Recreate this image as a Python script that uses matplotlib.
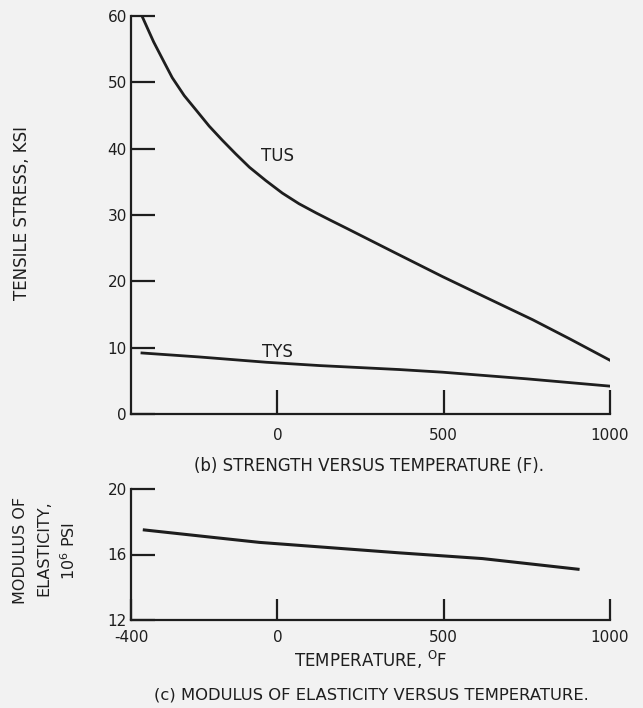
import matplotlib
matplotlib.use('Agg')
import matplotlib.pyplot as plt

# 인장 강도 (TUS), 항복 강도 (TYS) -- 온도(F) 대비 ksi
tus_temp = [-407, -390, -372, -340, -316, -280, -244, -205, -166, -125, -84,
            -35, 15, 65, 117, 160, 208, 350, 497, 630, 768, 880, 1000]
tus_ksi = [60, 58.1, 56.1, 53.0, 50.7, 48.0, 45.8, 43.4, 41.3, 39.2, 37.2,
           35.2, 33.3, 31.7, 30.3, 29.2, 28.0, 24.4, 20.7, 17.5, 14.2, 11.3, 8.1]

tys_temp = [-407, -235, -33, 127, 367, 497, 750, 1000]
tys_ksi = [9.2, 8.6, 7.8, 7.3, 6.7, 6.3, 5.3, 4.2]

# 탄성계수 (10^6 psi)
mod_temp = [-400, -196, -54, 367, 617, 904]
mod_msi = [17.5, 17.05, 16.74, 16.1, 15.75, 15.1]

top_yticks = [0, 10, 20, 30, 40, 50, 60]
top_xticks = [0, 500, 1000]
bot_yticks = [12, 16, 20]
bot_xticks = [-440, 0, 500, 1000]
bot_xlabels = ['-400', '0', '500', '1000']

INK = '#1e1e1e'
BG = '#f2f2f2'

plt.rcParams['font.family'] = ['DejaVu Sans']
plt.rcParams['text.color'] = INK

W, H = 643, 708
fig = plt.figure(figsize=(W / 100, H / 100), dpi=100, facecolor=BG)


def px_axes(left, top, right, bottom):
    '''픽셀 좌표로 축 위치 지정'''
    return fig.add_axes([left / W, 1 - bottom / H, (right - left) / W, (bottom - top) / H])


def style_axes(ax, xpad, ylen, xlen):
    ax.set_facecolor('none')
    for side in ['top', 'right']:
        ax.spines[side].set_visible(False)
    for side in ['left', 'bottom']:
        ax.spines[side].set_linewidth(1.6)
        ax.spines[side].set_color(INK)
    ax.tick_params(axis='y', direction='in', length=ylen, width=1.6, pad=3,
                   labelsize=11, colors=INK)
    ax.tick_params(axis='x', direction='in', length=xlen, width=1.6, pad=xpad,
                   labelsize=11, colors=INK)


# (b) 강도 vs 온도
ax1 = px_axes(131, 16, 610, 414)
ax1.plot(tus_temp, tus_ksi, color=INK, linewidth=2.0, solid_joinstyle='round')
ax1.plot(tys_temp, tys_ksi, color=INK, linewidth=2.0, solid_joinstyle='round')
ax1.set_xlim(-440, 1000)
ax1.set_ylim(0, 60)
ax1.set_yticks(top_yticks)
ax1.set_xticks(top_xticks)
style_axes(ax1, xpad=10, ylen=17, xlen=17)
ax1.text(0, 38.9, 'TUS', ha='center', va='center', fontsize=12)
ax1.text(0, 9.4, 'TYS', ha='center', va='center', fontsize=12)

fig.text(22 / W, 1 - 213 / H, 'TENSILE STRESS, KSI', rotation=90,
         ha='center', va='center', fontsize=12)
fig.text(369 / W, 1 - 466 / H, '(b) STRENGTH VERSUS TEMPERATURE (F).',
         ha='center', va='center', fontsize=12)

# (c) 탄성계수 vs 온도
ax2 = px_axes(131, 489, 610, 620)
ax2.plot(mod_temp, mod_msi, color=INK, linewidth=2.2, solid_joinstyle='round')
ax2.set_xlim(-440, 1000)
ax2.set_ylim(12, 20)
ax2.set_yticks(bot_yticks)
ax2.set_xticks(bot_xticks)
ax2.set_xticklabels(bot_xlabels)
style_axes(ax2, xpad=7, ylen=17, xlen=15)

fig.text(21 / W, 1 - 550 / H, 'MODULUS OF', rotation=90,
         ha='center', va='center', fontsize=11.5)
fig.text(44 / W, 1 - 548 / H, 'ELASTICITY,', rotation=90,
         ha='center', va='center', fontsize=11.5)
fig.text(69 / W, 1 - 551 / H, r'10$^{6}$ PSI', rotation=90,
         ha='center', va='center', fontsize=11.5)
fig.text(371 / W, 1 - 660 / H, r'TEMPERATURE, $^{\mathrm{O}}$F',
         ha='center', va='center', fontsize=12)
fig.text(371 / W, 1 - 695 / H, '(c) MODULUS OF ELASTICITY VERSUS TEMPERATURE.',
         ha='center', va='center', fontsize=11.8)

fig.savefig('out.png', dpi=100, facecolor=BG)
